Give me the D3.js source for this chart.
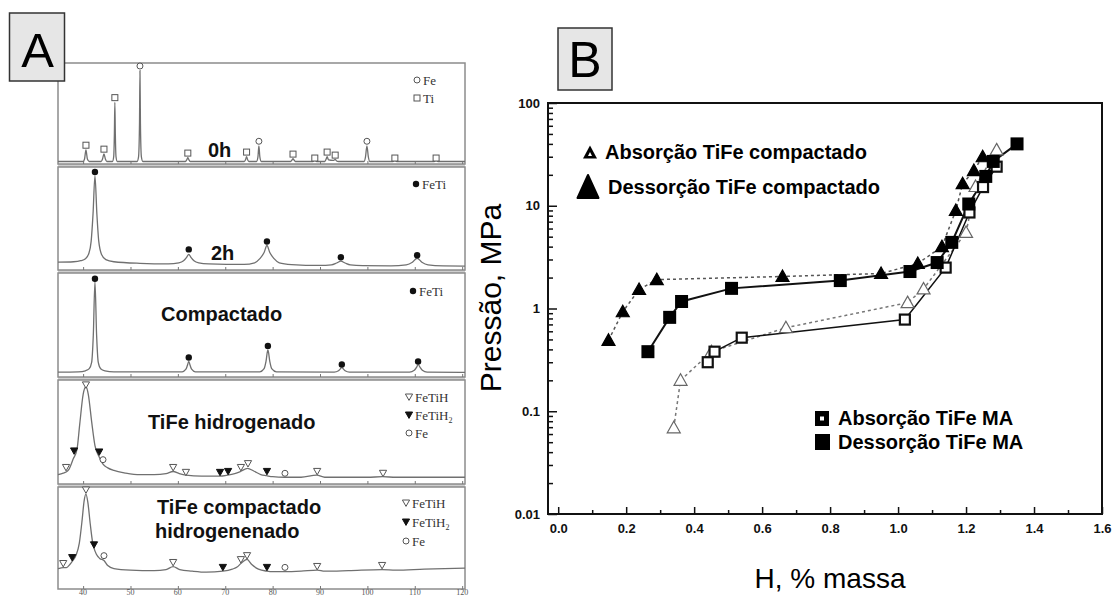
<!DOCTYPE html>
<html><head><meta charset="utf-8">
<script src="https://cdn.jsdelivr.net/npm/d3@7"></script>
<style>body{margin:0;background:#fff}svg{display:block}</style>
</head><body>
<svg id="c" width="1114" height="595"></svg>
<script>
// ================= PANEL A DATA (2θ, relative intensity %) =================
const xrdTicks = [40,50,60,70,80,90,100,110,120];

const pattern0h = [[34.7,2.5],[40.0,2.5],[40.3,5],[40.6,14],[40.9,5],[41.3,2.5],
 [43.8,2.5],[44.1,5],[44.4,10],[44.7,5],[45.0,2.5],
 [46.2,2.5],[46.45,7],[46.6,30],[46.7,61],[46.8,30],[46.95,7],[47.2,2.5],
 [51.4,2.5],[51.7,7],[51.9,40],[52.0,92.5],[52.1,40],[52.3,7],[52.6,2.5],
 [61.6,2.5],[61.9,4.5],[62.1,6.3],[62.3,4.5],[62.6,2.5],
 [74.0,2.5],[74.3,4.5],[74.5,7.3],[74.7,4.5],[75.0,2.5],
 [76.6,2.5],[76.9,7],[77.1,18],[77.3,7],[77.6,2.5],
 [83.8,2.5],[84.1,4],[84.3,5.3],[84.5,4],[84.8,2.5],
 [88.5,2.5],[88.9,4],[89.3,2.5],
 [91.0,2.5],[91.3,5],[91.5,7.3],[91.8,4],[92.8,3.5],[93.2,4.5],[93.5,3],[93.9,2.5],
 [99.3,2.5],[99.6,7],[99.9,18],[100.2,7],[100.5,2.5],
 [105.4,2.5],[105.8,3.5],[106.2,2.5],
 [114.1,2.5],[114.5,3.5],[114.9,2.5],[120.6,2.5]];
const markers0h = [[40.6,18.6,"sq"],[44.4,14.7,"sq"],[46.7,65.7,"sq"],[52.0,97,"o"],[62.1,10.8,"sq"],
 [74.5,11.8,"sq"],[77.1,22.5,"o"],[84.3,9.8,"sq"],[88.9,5.9,"sq"],[91.5,11.8,"sq"],[93.2,8.8,"sq"],
 [99.9,22.5,"o"],[105.8,5.9,"sq"],[114.5,5.9,"sq"]];

const pattern2h = [[34.7,7.6],[38,8],[39.5,9],[40.5,11],[41.2,16],[41.7,28],[42.1,55],[42.5,91.4],[42.9,55],
 [43.3,28],[43.9,15],[44.8,10],[46.5,8],[52,6.5],[58,6],[60.2,7],[61.2,9],[61.8,12],[62.3,15.2],[62.8,12],
 [63.4,9],[64.4,7],[66.5,6],[74,5.5],[76.2,7],[77.3,11],[78.2,17],[78.8,23.8],[79.4,17],[80.3,11],[81.4,7],[84,5.3],
 [90,4.4],[92.4,5],[93.5,6.8],[94.4,8.6],[95.3,6.8],[96.4,5],[99,4.2],[105,4],[108.2,5],[109.5,7.5],[110.5,11.4],
 [111.5,7.5],[112.8,5],[116,4],[120.6,3.8]];
const markers2h = [[42.5,95.2,"dot"],[62.3,20,"dot"],[78.8,27.6,"dot"],[94.4,12.4,"dot"],[110.5,14.3,"dot"]];

const patternComp = [[34.7,4.7],[39,5],[40.5,6],[41.3,8],[41.8,14],[42.15,40],[42.5,91.6],[42.85,40],[43.2,14],
 [43.7,8],[44.6,6],[46.5,5],[60.9,5],[61.7,7.5],[62.0,11],[62.3,15],[62.6,11],[62.9,7.5],[63.7,5],
 [77.3,5],[78.2,8],[78.6,15],[79.0,26.2],[79.4,15],[79.8,8],[80.8,5],
 [93.0,4.7],[93.9,6],[94.3,7.8],[94.6,9.3],[94.9,7.8],[95.3,6],[96.2,4.7],
 [108.9,4.7],[109.9,6.5],[110.4,9.5],[110.7,12.1],[111.1,9.5],[111.6,6.5],[112.6,4.7],[120.6,4.5]];
const markersComp = [[42.5,94.4,"dot"],[62.3,18.7,"dot"],[79.0,29.9,"dot"],[94.6,12.1,"dot"],[110.7,15,"dot"]];

const patternHyd = [[34.7,9],[35.8,10.5],[36.4,11.5],[37.0,14],[37.9,24],[38.7,33],[39.3,58],[40.0,86],[40.6,93.5],
 [41.1,86],[41.8,60],[42.5,37],[43.4,26],[44.2,19],[45.2,15.5],[46.5,13],[49,10.5],[52,9],[55,9],[57.5,10],
 [59.0,12],[60.3,10],[61.7,8.5],[65,7.5],[68.8,7.5],[70.5,8.5],[72,10],[73.2,12],[74.7,15],[76,12.5],[77.5,9],
 [78.7,8],[80,7],[82.5,6.5],[86,6.5],[89.3,8.5],[91,6.5],[100,6.5],[103.2,7],[106,6.5],[120.6,6.5]];
const markersHyd = [[40.6,95.3,"tri"],[36.4,15.9,"tri"],[38.1,31.8,"trif"],[43.4,30.8,"trif"],[44.2,23.4,"o"],
 [59.0,15.9,"tri"],[61.7,11.2,"tri"],[68.9,11.2,"trif"],[70.6,12.1,"trif"],[73.3,15.9,"tri"],[74.8,19.6,"tri"],
 [78.8,12.1,"trif"],[82.6,10.3,"o"],[89.4,12.1,"tri"],[103.3,10.3,"tri"]];

const patternCompHyd = [[34.7,20],[35.2,20.5],[35.8,21],[36.5,21],[37.2,24],[37.7,27],[38.5,33],[39.2,45],[39.8,68],
 [40.2,86],[40.6,93],[41.0,85],[41.5,64],[42.0,46],[42.3,40],[42.8,34],[43.5,30],[44.4,28],[45.2,23],[46.5,20],
 [50,18.5],[55,18],[57.5,19],[59,22],[60.4,19],[63,17.5],[66,16.5],[69.5,17.5],[71.5,19.5],[72.5,21.5],[73.3,25],
 [74.6,29],[75.6,24],[77,19.5],[78.8,17.5],[80,17],[82.6,17],[86,17.5],[89.4,18.5],[91,17.5],[96,18],[103.1,19],
 [106,18.5],[112,19.5],[120.6,20.5]];
const markersCompHyd = [[40.6,97.1,"tri"],[35.8,25,"tri"],[37.7,30.8,"trif"],[42.3,43.3,"trif"],[44.4,32.7,"o"],
 [59.0,26,"tri"],[69.5,21.2,"trif"],[73.3,28.8,"tri"],[74.6,32.7,"tri"],[78.8,21.2,"trif"],[82.6,21.2,"o"],
 [89.4,22.1,"tri"],[103.1,23.1,"tri"]];

// ================= PANEL B DATA =================
const xTicksB = [0.0,0.2,0.4,0.6,0.8,1.0,1.2,1.4,1.6];
const yTicksB = [0.01,0.1,1,10,100];
const absCompH = [0.34,0.36,0.451,0.67,1.028,1.075,1.2,1.228,1.29];
const absCompP = [0.069,0.20,0.38,0.65,1.14,1.55,5.5,15.4,35];
const desCompH = [0.148,0.19,0.238,0.29,0.66,0.95,1.058,1.129,1.17,1.19,1.223,1.249];
const desCompP = [0.49,0.93,1.53,1.91,2.05,2.19,2.74,4.0,9.0,16.4,22,30];
const absMAH = [0.44,0.46,0.54,1.02,1.14,1.21,1.25,1.29];
const absMAP = [0.30,0.38,0.52,0.78,2.5,8.6,15.2,24];
const desMAH = [0.264,0.328,0.363,0.51,0.83,1.035,1.115,1.158,1.208,1.258,1.28,1.35];
const desMAP = [0.38,0.82,1.17,1.57,1.87,2.29,2.8,4.4,10.4,19.3,27,40];

// ================= DRAW =================
const svg = d3.select("#c");
const serif = "'Liberation Serif','Times New Roman',serif";
const sans = "'Liberation Sans',Arial,sans-serif";

// ---- Panel A ----
const xA = d3.scaleLinear().domain([34.7,120.6]).range([58,465]);
const panelsA = [
 {top:63,bottom:164,data:pattern0h,marks:markers0h,
  labels:[{t:"0h",x:208,y:157}],legend:[["o","Fe"],["sq","Ti"]],lx:417,ly:80,ldy:18},
 {top:167,bottom:270,data:pattern2h,marks:markers2h,
  labels:[{t:"2h",x:211,y:260}],legend:[["dot","FeTi"]],lx:416,ly:184,ldy:18},
 {top:273,bottom:377,data:patternComp,marks:markersComp,
  labels:[{t:"Compactado",x:161,y:321}],legend:[["dot","FeTi"]],lx:413,ly:291,ldy:18},
 {top:380,bottom:484,data:patternHyd,marks:markersHyd,
  labels:[{t:"TiFe hidrogenado",x:148,y:429}],legend:[["tri","FeTiH"],["trif","FeTiH2"],["o","Fe"]],lx:409,ly:397,ldy:18},
 {top:487,bottom:589,data:patternCompHyd,marks:markersCompHyd,
  labels:[{t:"TiFe compactado",x:157,y:514},{t:"hidrogenenado",x:155,y:538}],
  legend:[["tri","FeTiH"],["trif","FeTiH2"],["o","Fe"]],lx:406,ly:503,ldy:19}
];

function markA(g,type,cx,cy){
  if(type==="o") g.append("circle").attr("cx",cx).attr("cy",cy).attr("r",3).attr("fill","#fff").attr("stroke","#555").attr("stroke-width",1);
  else if(type==="dot") g.append("circle").attr("cx",cx).attr("cy",cy).attr("r",3.2).attr("fill","#111");
  else if(type==="sq") g.append("rect").attr("x",cx-3).attr("y",cy-3).attr("width",6).attr("height",6).attr("fill","#fff").attr("stroke","#555").attr("stroke-width",1);
  else {
    const pts=[[cx-3.6,cy-3],[cx+3.6,cy-3],[cx,cy+3.4]];
    g.append("path").attr("d","M"+pts.join("L")+"Z")
     .attr("fill",type==="trif"?"#111":"#fff").attr("stroke",type==="trif"?"#111":"#555").attr("stroke-width",1);
  }
}

const gA = svg.append("g");
for(let i=0;i<panelsA.length-1;i++){
  gA.append("rect").attr("x",58).attr("y",panelsA[i].bottom).attr("width",407)
    .attr("height",panelsA[i+1].top-panelsA[i].bottom).attr("fill","#cfcfcf");
}
panelsA.forEach(p=>{
  const y = d3.scaleLinear().domain([0,100]).range([p.bottom,p.top]);
  const g = gA.append("g");
  g.append("rect").attr("x",58).attr("y",p.top).attr("width",407).attr("height",p.bottom-p.top)
    .attr("fill","#fff").attr("stroke","#8c8c8c").attr("stroke-width",1.5);
  const ax = d3.axisBottom(xA).tickValues(xrdTicks).tickSize(-3).tickFormat("");
  const ga = g.append("g").attr("transform",`translate(0,${p.bottom})`).call(ax);
  ga.select(".domain").remove();
  ga.selectAll("line").attr("stroke","#777");
  const line = d3.line().x(d=>xA(d[0])).y(d=>y(d[1])).curve(d3.curveMonotoneX);
  g.append("path").attr("d",line(p.data)).attr("fill","none").attr("stroke","#707070").attr("stroke-width",1.3);
  p.marks.forEach(m=>markA(g,m[2],xA(m[0]),y(m[1])));
  p.labels.forEach(l=>g.append("text").attr("x",l.x).attr("y",l.y).text(l.t)
    .attr("font-family",sans).attr("font-weight","bold").attr("font-size",20).attr("fill","#111"));
  p.legend.forEach((l,i)=>{
    const cy = p.ly + i*p.ldy;
    markA(g,l[0],p.lx,cy);
    const t = g.append("text").attr("x",p.lx+6).attr("y",cy+4.5)
      .attr("font-family",serif).attr("font-size",13).attr("fill","#333");
    if(l[1]==="FeTiH2"){ t.append("tspan").text("FeTiH"); t.append("tspan").text("2").attr("font-size",8).attr("dy",3); }
    else t.text(l[1]);
  });
});
gA.selectAll(".xl").data(xrdTicks).enter().append("text")
  .attr("x",d=>xA(d)).attr("y",594.5).attr("text-anchor","middle").text(d=>d)
  .attr("font-family",serif).attr("font-size",8).attr("fill","#555");
gA.append("rect").attr("x",9.5).attr("y",13).attr("width",55).attr("height",68).attr("fill","#e6e6e6").attr("stroke","#333").attr("stroke-width",1.5);
gA.append("text").attr("x",37.5).attr("y",67).attr("text-anchor","middle").text("A")
  .attr("font-family",sans).attr("font-size",49).attr("fill","#000");

// ---- Panel B ----
const gB = svg.append("g");
const xB = d3.scaleLinear().domain([-0.03,1.6]).range([548,1102]);
const yB = d3.scaleLog().domain([0.01,100]).range([514,103]);

gB.append("rect").attr("x",548).attr("y",103).attr("width",554).attr("height",411)
  .attr("fill","none").attr("stroke","#111").attr("stroke-width",2);

const xMinor = d3.range(0.1,1.6,0.2);
const gx = gB.append("g").attr("transform","translate(0,514)")
  .call(d3.axisBottom(xB).tickValues(xTicksB).tickSize(-7).tickPadding(10).tickFormat(d3.format(".1f")));
const gx2 = gB.append("g").attr("transform","translate(0,514)")
  .call(d3.axisBottom(xB).tickValues(xMinor).tickSize(-4).tickFormat(""));
const yMinor = [];
[0.01,0.1,1,10].forEach(dec=>{for(let k=2;k<=9;k++) yMinor.push(dec*k);});
const gy = gB.append("g").attr("transform","translate(548,0)")
  .call(d3.axisLeft(yB).tickValues(yTicksB).tickSize(-9).tickPadding(8).tickFormat(d=>String(d)));
const gy2 = gB.append("g").attr("transform","translate(548,0)")
  .call(d3.axisLeft(yB).tickValues(yMinor).tickSize(-5).tickFormat(""));
[gx,gx2,gy,gy2].forEach(g=>{
  g.select(".domain").remove();
  g.selectAll("line").attr("stroke","#111").attr("stroke-width",1.5);
  g.selectAll("text").attr("font-family",sans).attr("font-weight","bold").attr("font-size",13).attr("fill","#111");
});

const zip=(a,b)=>a.map((v,i)=>[v,b[i]]);
const lineB = d3.line().x(d=>xB(d[0])).y(d=>yB(d[1]));
const series = [
 {d:zip(absCompH,absCompP),stroke:"#777",w:1.5,dash:"3,3",m:"triO"},
 {d:zip(absMAH,absMAP),stroke:"#111",w:1.5,dash:null,m:"sqO"},
 {d:zip(desCompH,desCompP),stroke:"#555",w:1.5,dash:"3,3",m:"triF"},
 {d:zip(desMAH,desMAP),stroke:"#111",w:2,dash:null,m:"sqF"}
];
series.forEach(s=>{
  const p = gB.append("path").attr("d",lineB(s.d)).attr("fill","none").attr("stroke",s.stroke).attr("stroke-width",s.w);
  if(s.dash) p.attr("stroke-dasharray",s.dash);
});
function markB(g,type,cx,cy){
  if(type==="triO"||type==="triF"){
    const pts=[[cx,cy-6.5],[cx+6.5,cy+5],[cx-6.5,cy+5]];
    g.append("path").attr("d","M"+pts.join("L")+"Z")
     .attr("fill",type==="triF"?"#000":"#fff").attr("stroke",type==="triF"?"#000":"#666").attr("stroke-width",1.2);
  } else if(type==="sqO"){
    g.append("rect").attr("x",cx-5).attr("y",cy-5).attr("width",10).attr("height",10).attr("fill","#fff").attr("stroke","#111").attr("stroke-width",2.2);
  } else {
    g.append("rect").attr("x",cx-6.5).attr("y",cy-6.5).attr("width",13).attr("height",13).attr("fill","#000");
  }
}
series.forEach(s=>s.d.forEach(d=>markB(gB,s.m,xB(d[0]),yB(d[1]))));

const legB = [
 {t:"Absorção TiFe compactado",x:605,y:159},
 {t:"Dessorção TiFe compactado",x:608,y:194},
 {t:"Absorção TiFe MA",x:838,y:425},
 {t:"Dessorção TiFe MA",x:838,y:449}
];
legB.forEach(l=>gB.append("text").attr("x",l.x).attr("y",l.y).text(l.t)
  .attr("font-family",sans).attr("font-weight","bold").attr("font-size",20).attr("fill","#000"));
gB.append("path").attr("d","M590,145.5L597,158.5L583,158.5Z").attr("fill","#000");
gB.append("path").attr("d","M590,152L592,156L588,156Z").attr("fill","#fff");
gB.append("path").attr("d","M588,175L598.5,198L577.5,198Z").attr("fill","#000").attr("stroke","#000").attr("stroke-linejoin","round").attr("stroke-width",2);
gB.append("rect").attr("x",815).attr("y",411).attr("width",14).attr("height",15).attr("fill","#000");
gB.append("rect").attr("x",820).attr("y",416.5).attr("width",4).attr("height",4).attr("fill","#fff");
gB.append("rect").attr("x",815).attr("y",434).attr("width",15).attr("height",16).attr("fill","#000");

gB.append("text").attr("transform","translate(501,298) rotate(-90)").attr("text-anchor","middle")
  .text("Pressão, MPa").attr("font-family",sans).attr("font-size",30).attr("fill","#000");
gB.append("text").attr("x",830).attr("y",588).attr("text-anchor","middle")
  .text("H, % massa").attr("font-family",sans).attr("font-size",28).attr("fill","#000");

gB.append("rect").attr("x",558).attr("y",28).attr("width",54).attr("height",62).attr("fill","#e6e6e6").attr("stroke","#333").attr("stroke-width",1.5);
gB.append("text").attr("x",585).attr("y",77).attr("text-anchor","middle").text("B")
  .attr("font-family",sans).attr("font-size",50).attr("fill","#000");
</script>
</body></html>
